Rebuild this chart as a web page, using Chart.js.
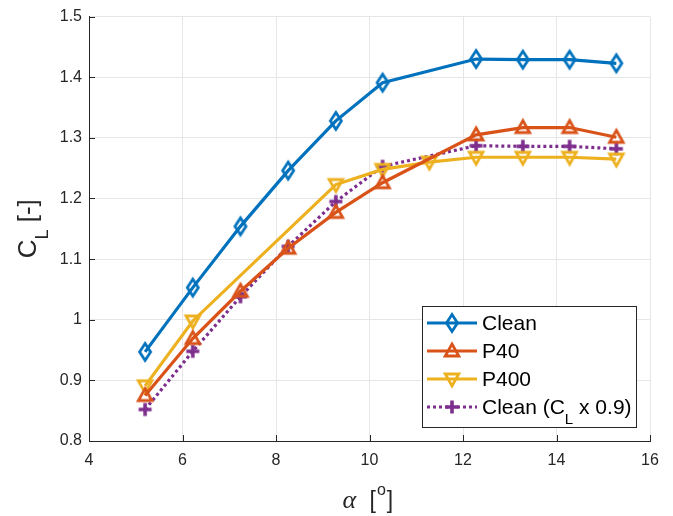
<!DOCTYPE html>
<html>
<head>
<meta charset="utf-8">
<script src="https://cdn.jsdelivr.net/npm/chart.js@4.4.1/dist/chart.umd.min.js"></script>
<style>
  html, body { margin: 0; padding: 0; background: #fff; }
</style>
</head>
<body>
<canvas id="clChart" width="673" height="516"></canvas>
<script>
// lift coefficient vs angle of attack
const alphaClean = [5.2, 6.22, 7.24, 8.26, 9.28, 10.28, 12.28, 13.28, 14.28, 15.28];
const clClean = [0.947, 1.053, 1.154, 1.246, 1.328, 1.391, 1.430, 1.429, 1.429, 1.423];

const alphaP40 = [5.2, 6.22, 7.24, 8.26, 9.28, 10.28, 12.28, 13.28, 14.28, 15.28];
const clP40 = [0.875, 0.969, 1.047, 1.118, 1.177, 1.226, 1.305, 1.317, 1.317, 1.301];

const alphaP400 = [5.2, 6.22, 9.28, 10.28, 11.28, 12.28, 13.28, 14.28, 15.28];
const clP400 = [0.891, 0.998, 1.223, 1.248, 1.260, 1.268, 1.268, 1.268, 1.265];

const alphaScaled = [5.2, 6.22, 7.24, 8.26, 9.28, 10.28, 12.28, 13.28, 14.28, 15.28];
const clScaled = [0.852, 0.948, 1.038, 1.121, 1.195, 1.253, 1.287, 1.286, 1.286, 1.282];

const xTicks = [4, 6, 8, 10, 12, 14, 16];
const yTicks = [0.8, 0.9, 1.0, 1.1, 1.2, 1.3, 1.4, 1.5];

const AXIS = '#262626';
const GRID = '#e6e6e6';
const SANS = '"Liberation Sans", Arial, Helvetica, sans-serif';

// MATLAB style open markers, drawn once on small canvases
function makeMarker(shape, color) {
    const c = document.createElement('canvas');
    c.width = 24; c.height = 24;
    const g = c.getContext('2d');
    g.strokeStyle = color;
    g.lineWidth = 2.8;
    g.lineJoin = 'miter';
    g.beginPath();
    if (shape === 'diamond') {
        g.moveTo(12, 3.5); g.lineTo(17.5, 12); g.lineTo(12, 20.5); g.lineTo(6.5, 12); g.closePath();
    } else if (shape === 'up') {
        g.moveTo(12, 5); g.lineTo(18.8, 17); g.lineTo(5.2, 17); g.closePath();
    } else if (shape === 'down') {
        g.moveTo(12, 19); g.lineTo(18.8, 7); g.lineTo(5.2, 7); g.closePath();
    } else {
        g.lineWidth = 3.6;
        g.moveTo(5.5, 12); g.lineTo(18.5, 12);
        g.moveTo(12, 5.5); g.lineTo(12, 18.5);
    }
    g.stroke();
    return c;
}

function pts(xs, ys) {
    return xs.map((x, i) => ({ x: x, y: ys[i] }));
}

function series(label, xs, ys, color, marker, dash) {
    return {
        label: label,
        data: pts(xs, ys),
        borderColor: color,
        borderWidth: 3.2,
        borderDash: dash || [],
        borderCapStyle: 'butt',
        pointStyle: makeMarker(marker, color),
        pointRadius: 7,
        tension: 0,
        fill: false
    };
}

// inward tick marks like MATLAB
const tickMarks = {
    id: 'tickMarks',
    afterDatasetsDraw(chart) {
        const { ctx, chartArea: a, scales: { x, y } } = chart;
        ctx.save();
        ctx.strokeStyle = AXIS;
        ctx.lineWidth = 1;
        ctx.beginPath();
        xTicks.forEach(v => {
            const px = Math.round(x.getPixelForValue(v)) + 0.5;
            ctx.moveTo(px, a.bottom); ctx.lineTo(px, a.bottom - 6);
        });
        yTicks.forEach(v => {
            const py = Math.round(y.getPixelForValue(v)) + 0.5;
            ctx.moveTo(a.left, py); ctx.lineTo(a.left + 6, py);
        });
        ctx.stroke();
        ctx.restore();
    }
};

// axis titles with sub/superscripts
const axisTitles = {
    id: 'axisTitles',
    afterDraw(chart) {
        const { ctx, chartArea: a } = chart;
        ctx.save();
        ctx.fillStyle = AXIS;
        ctx.textBaseline = 'alphabetic';
        ctx.textAlign = 'left';

        // y: C_L [-]
        const midY = (a.top + a.bottom) / 2;
        ctx.save();
        ctx.translate(36, midY);
        ctx.rotate(-Math.PI / 2);
        ctx.font = '26px ' + SANS;
        const wC = ctx.measureText('C').width;
        const wRest = ctx.measureText(' [-]').width;
        ctx.font = '18px ' + SANS;
        const wL = ctx.measureText('L').width;
        let sx = -(wC + wL + wRest) / 2;
        ctx.font = '26px ' + SANS;
        ctx.fillText('C', sx, 0);
        ctx.font = '18px ' + SANS;
        ctx.fillText('L', sx + wC, 12);
        ctx.font = '26px ' + SANS;
        ctx.fillText(' [-]', sx + wC + wL, 0);
        ctx.restore();

        // x: alpha [o]
        const midX = (a.left + a.right) / 2;
        const base = 508;
        ctx.font = 'italic 26px "Liberation Serif", "DejaVu Serif", serif';
        ctx.fillText('\u03b1', midX - 27, base);
        ctx.font = '23px ' + SANS;
        ctx.fillText('[', midX, base);
        const wB = ctx.measureText('[').width;
        ctx.font = '16px ' + SANS;
        ctx.fillText('o', midX + wB + 1, base - 13);
        const wO = ctx.measureText('o').width;
        ctx.font = '23px ' + SANS;
        ctx.fillText(']', midX + wB + wO + 2, base);
        ctx.restore();
    }
};

// boxed legend inside the plot, lower right
const boxLegend = {
    id: 'boxLegend',
    afterDraw(chart) {
        const { ctx } = chart;
        const left = 422, top = 306, right = 636, bottom = 427;
        ctx.save();
        ctx.fillStyle = '#fff';
        ctx.fillRect(left, top, right - left, bottom - top);
        ctx.strokeStyle = AXIS;
        ctx.lineWidth = 1;
        ctx.strokeRect(left + 0.5, top + 0.5, right - left, bottom - top);

        chart.data.datasets.forEach((ds, i) => {
            const cy = 323 + i * 28;
            ctx.strokeStyle = ds.borderColor;
            ctx.lineWidth = 3.2;
            ctx.setLineDash(ds.borderDash);
            ctx.beginPath();
            ctx.moveTo(427, cy); ctx.lineTo(477, cy);
            ctx.stroke();
            ctx.setLineDash([]);
            const m = ds.pointStyle;
            ctx.drawImage(m, 452 - m.width / 2, cy - m.height / 2);

            ctx.fillStyle = '#000';
            ctx.textBaseline = 'alphabetic';
            let tx = 482;
            const by = cy + 7;
            const parts = ds.label.split('_');
            ctx.font = '21px ' + SANS;
            ctx.fillText(parts[0], tx, by);
            tx += ctx.measureText(parts[0]).width;
            if (parts.length > 1) {
                const sub = parts[1].charAt(0);
                const rest = parts[1].slice(1);
                ctx.font = '15px ' + SANS;
                ctx.fillText(sub, tx, by + 10);
                tx += ctx.measureText(sub).width;
                ctx.font = '21px ' + SANS;
                ctx.fillText(rest, tx, by);
            }
        });
        ctx.restore();
    }
};

const ctx = document.getElementById('clChart').getContext('2d');

new Chart(ctx, {
    type: 'line',
    data: {
        datasets: [
            series('Clean', alphaClean, clClean, '#0072BD', 'diamond'),
            series('P40', alphaP40, clP40, '#D95319', 'up'),
            series('P400', alphaP400, clP400, '#EDB120', 'down'),
            series('Clean (C_L x 0.9)', alphaScaled, clScaled, '#7E2F8E', 'plus', [3, 3])
        ]
    },
    options: {
        responsive: false,
        animation: false,
        devicePixelRatio: 1,
        layout: { padding: { left: 0, right: 23, top: 12, bottom: 0 } },
        plugins: {
            legend: { display: false },
            tooltip: { enabled: false }
        },
        scales: {
            x: {
                type: 'linear',
                min: 4,
                max: 16,
                afterBuildTicks: s => { s.ticks = xTicks.map(v => ({ value: v })); },
                afterFit: s => { s.height = 75; },
                grid: { color: GRID, drawTicks: false },
                border: { color: AXIS, width: 1 },
                ticks: { color: AXIS, padding: 10, font: { family: SANS, size: 16 } }
            },
            y: {
                type: 'linear',
                min: 0.8,
                max: 1.5,
                afterBuildTicks: s => { s.ticks = yTicks.map(v => ({ value: v })); },
                afterFit: s => { s.width = 89; },
                grid: { color: GRID, drawTicks: false },
                border: { color: AXIS, width: 1 },
                ticks: {
                    color: AXIS,
                    padding: 7,
                    font: { family: SANS, size: 16 },
                    callback: v => String(Number(v.toFixed(1)))
                }
            }
        }
    },
    plugins: [tickMarks, axisTitles, boxLegend]
});
</script>
</body>
</html>
